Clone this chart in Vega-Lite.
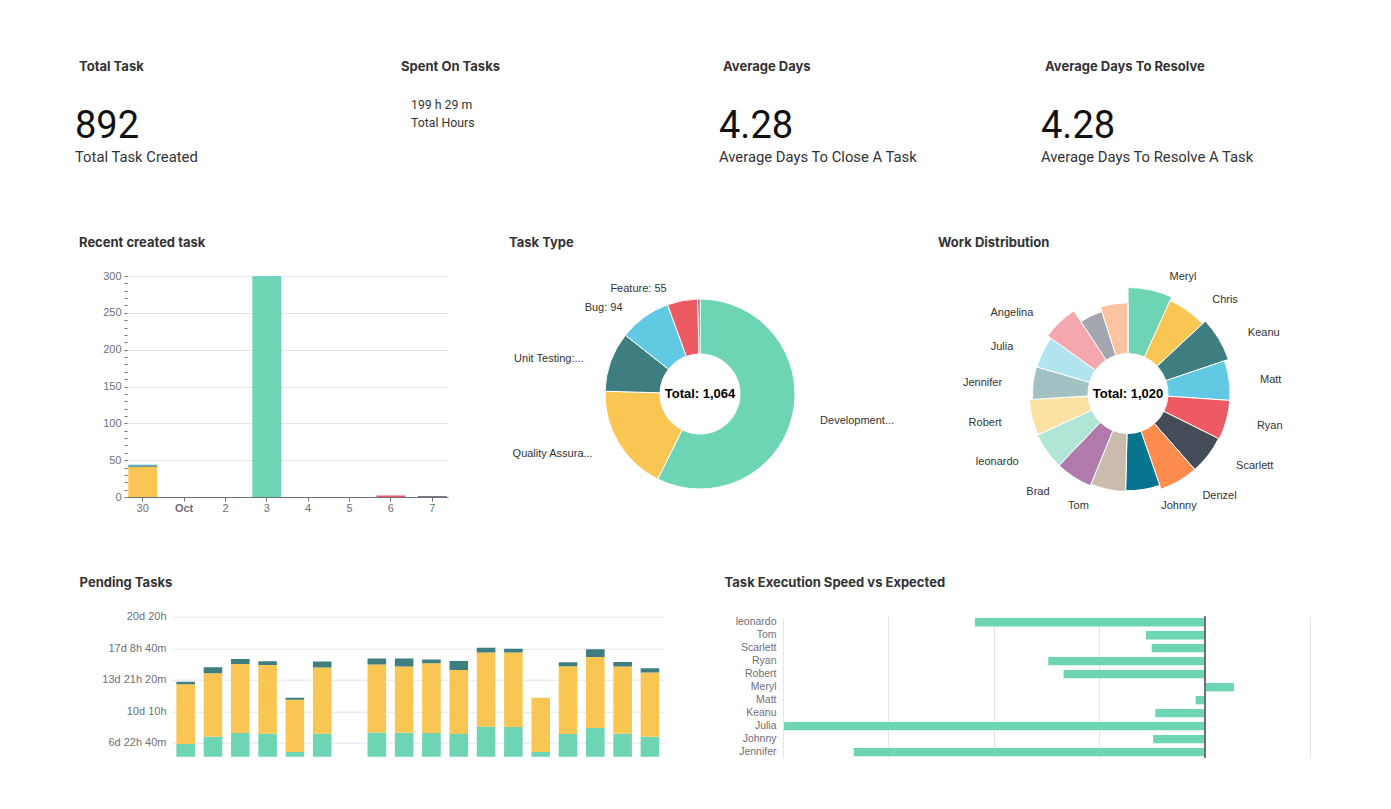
{
  "$schema": "https://vega.github.io/schema/vega-lite/v6.json",
  "background": "white",
  "padding": {"left": 75, "top": 61, "right": 0, "bottom": 0},
  "config": {
    "view": {"stroke": null},
    "title": {"anchor": "start", "frame": "group", "font": "Inter", "fontSize": 13, "fontWeight": "bold", "color": "#333333", "baseline": "alphabetic"},
    "axis": {"labelFont": "Liberation Sans", "labelColor": "#6e7079", "labelFontSize": 11, "gridColor": "#e0e6f1"},
    "text": {"font": "Liberation Sans"}
  },
  "spacing": 21,
  "resolve": {"scale": {"color": "independent", "size": "independent", "theta": "independent", "radius": "independent"}},
  "vconcat": [
    {
      "hconcat": [
        {
          "width": 309, "height": 133,
          "title": {"text": "Total Task", "dx": 4, "offset": 8},
          "data": {"values": [{"role": "value", "text": "892"}, {"role": "label", "text": "Total Task Created"}]},
          "mark": {"type": "text", "align": "left", "baseline": "alphabetic", "font": "Roboto"},
          "encoding": {
            "x": {"datum": 0, "type": "quantitative", "scale": {"domain": [0, 1]}, "axis": null},
            "y": {"field": "role", "type": "nominal", "scale": {"type": "point", "domain": ["d1", "d2", "value", "label", "d3"], "padding": 0.771, "align": 0.216}, "axis": null},
            "text": {"field": "text"},
            "size": {"field": "role", "type": "ordinal", "scale": {"domain": ["value", "label"], "range": [38, 14.8]}, "legend": null},
            "color": {"field": "role", "type": "nominal", "scale": {"domain": ["value", "label"], "range": ["#111111", "#333333"]}, "legend": null}
          }
        },
        {
          "width": 309, "height": 133,
          "title": {"text": "Spent On Tasks", "dx": 4, "offset": 8},
          "data": {"values": [{"role": "value", "text": "199 h 29 m"}, {"role": "label", "text": "Total Hours"}]},
          "mark": {"type": "text", "align": "left", "baseline": "alphabetic", "font": "Roboto", "dx": 14, "fontSize": 12.3, "color": "#333333"},
          "encoding": {
            "x": {"datum": 0, "type": "quantitative", "scale": {"domain": [0, 1]}, "axis": null},
            "y": {"field": "role", "type": "nominal", "scale": {"type": "point", "domain": ["d0", "value", "label", "d3", "d4", "d5", "d6"], "padding": 0.694, "align": 0.36}, "axis": null},
            "text": {"field": "text"}
          }
        },
        {
          "width": 309, "height": 133,
          "title": {"text": "Average Days", "dx": 4, "offset": 8},
          "data": {"values": [{"role": "value", "text": "4.28"}, {"role": "label", "text": "Average Days To Close A Task"}]},
          "mark": {"type": "text", "align": "left", "baseline": "alphabetic", "font": "Roboto"},
          "encoding": {
            "x": {"datum": 0, "type": "quantitative", "scale": {"domain": [0, 1]}, "axis": null},
            "y": {"field": "role", "type": "nominal", "scale": {"type": "point", "domain": ["d1", "d2", "value", "label", "d3"], "padding": 0.771, "align": 0.216}, "axis": null},
            "text": {"field": "text"},
            "size": {"field": "role", "type": "ordinal", "scale": {"domain": ["value", "label"], "range": [38, 14.8]}, "legend": null},
            "color": {"field": "role", "type": "nominal", "scale": {"domain": ["value", "label"], "range": ["#111111", "#333333"]}, "legend": null}
          }
        },
        {
          "width": 276, "height": 133,
          "title": {"text": "Average Days To Resolve", "dx": 4, "offset": 8},
          "data": {"values": [{"role": "value", "text": "4.28"}, {"role": "label", "text": "Average Days To Resolve A Task"}]},
          "mark": {"type": "text", "align": "left", "baseline": "alphabetic", "font": "Roboto"},
          "encoding": {
            "x": {"datum": 0, "type": "quantitative", "scale": {"domain": [0, 1]}, "axis": null},
            "y": {"field": "role", "type": "nominal", "scale": {"type": "point", "domain": ["d1", "d2", "value", "label", "d3"], "padding": 0.771, "align": 0.216}, "axis": null},
            "text": {"field": "text"},
            "size": {"field": "role", "type": "ordinal", "scale": {"domain": ["value", "label"], "range": [38, 14.8]}, "legend": null},
            "color": {"field": "role", "type": "nominal", "scale": {"domain": ["value", "label"], "range": ["#111111", "#333333"]}, "legend": null}
          }
        }
      ],
      "spacing": 13,
      "bounds": "flush",
      "resolve": {"scale": {"color": "independent", "size": "independent"}}
    },
    {
      "spacing": 63.7,
      "resolve": {"scale": {"color": "independent", "size": "independent", "theta": "independent", "radius": "independent"}},
      "vconcat": [
        {
          "hconcat": [
            {
              "width": 22, "height": 10,
              "data": {"values": [{"t": ""}]},
              "mark": "text",
              "encoding": {"text": {"field": "t"}}
            },
            {
              "width": 321, "height": 221,
              "title": {"text": "Recent created task", "dx": -48, "offset": 20.5},
              "data": {"values": [
                {"date": "2023-09-30", "type": "Quality Assurance", "count": 41},
                {"date": "2023-09-30", "type": "Unit Testing", "count": 2},
                {"date": "2023-09-30", "type": "Bug", "count": 1},
                {"date": "2023-10-03", "type": "Development", "count": 299},
                {"date": "2023-10-03", "type": "Bug", "count": 1},
                {"date": "2023-10-06", "type": "Feature", "count": 2},
                {"date": "2023-10-07", "type": "Other", "count": 1}
              ]},
              "transform": [{"calculate": "indexof(['Development','Quality Assurance','Unit Testing','Bug','Feature','Other'], datum.type)", "as": "ord"}],
              "mark": {"type": "bar"},
              "encoding": {
                "x": {"field": "date", "type": "ordinal",
                  "scale": {"type": "band", "domain": ["2023-09-30", "2023-10-01", "2023-10-02", "2023-10-03", "2023-10-04", "2023-10-05", "2023-10-06", "2023-10-07"], "paddingInner": 0.3, "paddingOuter": 0.03},
                  "axis": {"title": null, "labelAngle": 0, "labelExpr": "datum.value == '2023-10-01' ? 'Oct' : '' + toNumber(slice(datum.value, 8))",
                    "labelFontWeight": {"condition": {"test": "datum.value == '2023-10-01'", "value": "bold"}, "value": "normal"},
                    "domainColor": "#6e7079", "tickColor": "#6e7079", "tickSize": 4, "labelPadding": 1}},
                "y": {"field": "count", "type": "quantitative", "stack": "zero", "scale": {"domain": [0, 300], "nice": false},
                  "axis": {"title": null, "values": [0, 10, 20, 30, 40, 50, 60, 70, 80, 90, 100, 110, 120, 130, 140, 150, 160, 170, 180, 190, 200, 210, 220, 230, 240, 250, 260, 270, 280, 290, 300],
                    "labelExpr": "datum.value % 50 == 0 ? datum.label : ''",
                    "gridOpacity": {"condition": {"test": "datum.value % 50 == 0", "value": 1}, "value": 0},
                    "domain": false, "tickSize": 3, "tickColor": "#6e7079", "labelOverlap": false, "labelPadding": 3}},
                "color": {"field": "type", "type": "nominal", "scale": {"domain": ["Development", "Quality Assurance", "Unit Testing", "Bug", "Feature", "Other"], "range": ["#6dd4b4", "#f9c653", "#3e7e80", "#62c9e2", "#ed5a64", "#454c59"]}, "legend": null},
                "order": {"field": "ord", "type": "quantitative"}
              }
            },
            {
              "width": 444, "height": 236,
              "title": {"text": "Task Type", "dx": 31, "offset": 26.5},
              "data": {"values": [
                {"type": "Development", "count": 610, "label": "Development..."},
                {"type": "Quality Assurance", "count": 193, "label": "Quality Assura..."},
                {"type": "Unit Testing", "count": 108, "label": "Unit Testing:..."},
                {"type": "Bug", "count": 94, "label": "Bug: 94"},
                {"type": "Feature", "count": 55, "label": "Feature: 55"},
                {"type": "Other", "count": 4, "label": ""}
              ]},
              "transform": [{"calculate": "indexof(['Development','Quality Assurance','Unit Testing','Bug','Feature','Other'], datum.type)", "as": "ord"}],
              "layer": [
                {
                  "mark": {"type": "arc", "radius": 95, "innerRadius": 40, "stroke": "#ffffff", "strokeWidth": 1},
                  "encoding": {
                    "theta": {"field": "count", "type": "quantitative", "stack": true},
                    "order": {"field": "ord", "type": "quantitative"},
                    "color": {"field": "type", "type": "nominal", "scale": {"domain": ["Development", "Quality Assurance", "Unit Testing", "Bug", "Feature", "Other"], "range": ["#6dd4b4", "#f9c653", "#3e7e80", "#62c9e2", "#ed5a64", "#454c59"]}, "legend": null}
                  }
                },
                {
                  "mark": {"type": "text", "radius": 110, "align": "left", "dx": 13, "dy": 2, "baseline": "middle", "fontSize": 11, "color": "#333333"},
                  "encoding": {
                    "theta": {"field": "count", "type": "quantitative", "stack": true},
                    "order": {"field": "ord", "type": "quantitative"},
                    "text": {"condition": {"test": "datum.type == 'Development'", "field": "label"}, "value": ""}
                  }
                },
                {
                  "mark": {"type": "text", "radius": 110, "align": "right", "dx": -13, "dy": 3, "baseline": "middle", "fontSize": 11, "color": "#333333"},
                  "encoding": {
                    "theta": {"field": "count", "type": "quantitative", "stack": true},
                    "order": {"field": "ord", "type": "quantitative"},
                    "text": {"condition": {"test": "datum.type != 'Development'", "field": "label"}, "value": ""}
                  }
                },
                {
                  "transform": [{"aggregate": [{"op": "sum", "field": "count", "as": "total"}]}, {"calculate": "'Total: ' + format(datum.total, ',')", "as": "t"}],
                  "mark": {"type": "text", "fontSize": 13, "fontWeight": "bold", "color": "#000000", "baseline": "middle"},
                  "encoding": {"text": {"field": "t"}}
                }
              ]
            },
            {
              "width": 352, "height": 235,
              "title": {"text": "Work Distribution", "dx": -14, "offset": 21.5},
              "data": {"values": [
                {"name": "Meryl", "count": 69}, {"name": "Chris", "count": 64}, {"name": "Keanu", "count": 69},
                {"name": "Matt", "count": 64}, {"name": "Ryan", "count": 64}, {"name": "Scarlett", "count": 63},
                {"name": "Denzel", "count": 63}, {"name": "Johnny", "count": 58}, {"name": "Tom", "count": 59},
                {"name": "Brad", "count": 61}, {"name": "leonardo", "count": 61}, {"name": "Robert", "count": 60},
                {"name": "Jennifer", "count": 56}, {"name": "Julia", "count": 55}, {"name": "Angelina", "count": 60},
                {"name": "Natalie", "count": 44}, {"name": "Morgan", "count": 50}
              ]},
              "transform": [{"calculate": "indexof(['Meryl','Chris','Keanu','Matt','Ryan','Scarlett','Denzel','Johnny','Tom','Brad','leonardo','Robert','Jennifer','Julia','Angelina','Natalie','Morgan'], datum.name)", "as": "ord"}],
              "layer": [
                {
                  "mark": {"type": "arc", "innerRadius": 40, "stroke": "#ffffff", "strokeWidth": 1},
                  "encoding": {
                    "theta": {"field": "count", "type": "quantitative", "stack": true},
                    "radius": {"field": "count", "type": "quantitative", "scale": {"type": "linear", "zero": false, "domain": [44, 69], "range": [86, 106]}},
                    "order": {"field": "ord", "type": "quantitative"},
                    "color": {"field": "name", "type": "nominal", "scale": {"domain": ["Meryl", "Chris", "Keanu", "Matt", "Ryan", "Scarlett", "Denzel", "Johnny", "Tom", "Brad", "leonardo", "Robert", "Jennifer", "Julia", "Angelina", "Natalie", "Morgan"], "range": ["#6dd4b4", "#f9c653", "#3e7e80", "#62c9e2", "#ed5a64", "#454c59", "#fd8b4d", "#07748d", "#c9bcad", "#b07aac", "#b1e6d6", "#fbe1a4", "#a1c1c3", "#b2e4f0", "#f4a8ad", "#a3a6ae", "#fcc3a3"]}, "legend": null}
                  }
                },
                {
                  "mark": {"type": "text", "radiusOffset": 15, "align": "left", "dx": 16, "dy": 2, "baseline": "middle", "fontSize": 11, "color": "#333333"},
                  "encoding": {
                    "theta": {"field": "count", "type": "quantitative", "stack": true},
                    "radius": {"field": "count", "type": "quantitative", "scale": {"type": "linear", "zero": false, "domain": [44, 69], "range": [86, 106]}},
                    "order": {"field": "ord", "type": "quantitative"},
                    "text": {"condition": {"test": "indexof(['Meryl','Chris','Keanu','Matt','Ryan','Scarlett','Denzel','Johnny'], datum.name) >= 0", "field": "name"}, "value": ""}
                  }
                },
                {
                  "mark": {"type": "text", "radiusOffset": 15, "align": "right", "dx": -16, "dy": 2, "baseline": "middle", "fontSize": 11, "color": "#333333"},
                  "encoding": {
                    "theta": {"field": "count", "type": "quantitative", "stack": true},
                    "radius": {"field": "count", "type": "quantitative", "scale": {"type": "linear", "zero": false, "domain": [44, 69], "range": [86, 106]}},
                    "order": {"field": "ord", "type": "quantitative"},
                    "text": {"condition": {"test": "indexof(['Tom','Brad','leonardo','Robert','Jennifer','Julia','Angelina'], datum.name) >= 0", "field": "name"}, "value": ""}
                  }
                },
                {
                  "transform": [{"aggregate": [{"op": "sum", "field": "count", "as": "total"}]}, {"calculate": "'Total: ' + format(datum.total, ',')", "as": "t"}],
                  "mark": {"type": "text", "fontSize": 13, "fontWeight": "bold", "color": "#000000", "baseline": "middle"},
                  "encoding": {"text": {"field": "t"}}
                }
              ]
            }
          ],
          "spacing": 30,
          "bounds": "flush",
          "resolve": {"scale": {"color": "independent", "theta": "independent", "radius": "independent"}}
        },
        {
          "hconcat": [
            {
              "width": 86.4, "height": 10,
              "data": {"values": [{"t": ""}]},
              "mark": "text",
              "encoding": {"text": {"field": "t"}}
            },
            {
              "width": 491.6, "height": 140,
              "title": {"text": "Pending Tasks", "dx": -92.4, "offset": 20.9},
              "data": {"values": [
                {"day": "1", "status": "Open", "minutes": 9790}, {"day": "1", "status": "In Progress", "minutes": 9500}, {"day": "1", "status": "Blocked", "minutes": 370},
                {"day": "2", "status": "Open", "minutes": 10950}, {"day": "2", "status": "In Progress", "minutes": 10080}, {"day": "2", "status": "Blocked", "minutes": 950},
                {"day": "3", "status": "Open", "minutes": 11530}, {"day": "3", "status": "In Progress", "minutes": 10980}, {"day": "3", "status": "Blocked", "minutes": 790},
                {"day": "4", "status": "Open", "minutes": 11430}, {"day": "4", "status": "In Progress", "minutes": 10920}, {"day": "4", "status": "Blocked", "minutes": 580},
                {"day": "5", "status": "Open", "minutes": 8520}, {"day": "5", "status": "In Progress", "minutes": 8290}, {"day": "5", "status": "Blocked", "minutes": 320},
                {"day": "6", "status": "Open", "minutes": 11430}, {"day": "6", "status": "In Progress", "minutes": 10500}, {"day": "6", "status": "Blocked", "minutes": 950},
                {"day": "8", "status": "Open", "minutes": 11640}, {"day": "8", "status": "In Progress", "minutes": 10770}, {"day": "8", "status": "Blocked", "minutes": 950},
                {"day": "9", "status": "Open", "minutes": 11580}, {"day": "9", "status": "In Progress", "minutes": 10500}, {"day": "9", "status": "Blocked", "minutes": 1270},
                {"day": "10", "status": "Open", "minutes": 11530}, {"day": "10", "status": "In Progress", "minutes": 11080}, {"day": "10", "status": "Blocked", "minutes": 580},
                {"day": "11", "status": "Open", "minutes": 11370}, {"day": "11", "status": "In Progress", "minutes": 10190}, {"day": "11", "status": "Blocked", "minutes": 1420},
                {"day": "12", "status": "Open", "minutes": 12530}, {"day": "12", "status": "In Progress", "minutes": 11770}, {"day": "12", "status": "Blocked", "minutes": 790},
                {"day": "13", "status": "Open", "minutes": 12480}, {"day": "13", "status": "In Progress", "minutes": 11820}, {"day": "13", "status": "Blocked", "minutes": 630},
                {"day": "14", "status": "Open", "minutes": 8520}, {"day": "14", "status": "In Progress", "minutes": 8600},
                {"day": "15", "status": "Open", "minutes": 11370}, {"day": "15", "status": "In Progress", "minutes": 10770}, {"day": "15", "status": "Blocked", "minutes": 630},
                {"day": "16", "status": "Open", "minutes": 12320}, {"day": "16", "status": "In Progress", "minutes": 11290}, {"day": "16", "status": "Blocked", "minutes": 1210},
                {"day": "17", "status": "Open", "minutes": 11430}, {"day": "17", "status": "In Progress", "minutes": 10650}, {"day": "17", "status": "Blocked", "minutes": 740},
                {"day": "18", "status": "Open", "minutes": 10950}, {"day": "18", "status": "In Progress", "minutes": 10180}, {"day": "18", "status": "Blocked", "minutes": 690}
              ]},
              "transform": [{"calculate": "indexof(['Open','In Progress','Blocked'], datum.status)", "as": "ord"}],
              "mark": {"type": "bar", "clip": true},
              "encoding": {
                "x": {"field": "day", "type": "ordinal", "scale": {"type": "band", "domain": ["1", "2", "3", "4", "5", "6", "7", "8", "9", "10", "11", "12", "13", "14", "15", "16", "17", "18"], "paddingInner": 0.32, "paddingOuter": 0.16}, "axis": null},
                "y": {"field": "minutes", "type": "quantitative", "stack": "zero", "scale": {"domain": [7785, 30000], "nice": false, "zero": false},
                  "axis": {"title": null, "values": [10000, 15000, 20000, 25000, 30000], "domain": false, "ticks": false, "labelPadding": 6,
                    "labelExpr": "floor(datum.value / 1440) + 'd ' + floor((datum.value % 1440) / 60) + 'h' + ((datum.value % 60) > 0 ? ' ' + (datum.value % 60) + 'm' : '')"}},
                "color": {"field": "status", "type": "nominal", "scale": {"domain": ["Open", "In Progress", "Blocked"], "range": ["#6dd4b4", "#f9c653", "#3e7e80"]}, "legend": null},
                "order": {"field": "ord", "type": "quantitative"}
              }
            },
            {
              "width": 98.4, "height": 10,
              "data": {"values": [{"t": ""}]},
              "mark": "text",
              "encoding": {"text": {"field": "t"}}
            },
            {
              "width": 527.4, "height": 141,
              "title": {"text": "Task Execution Speed vs Expected", "dx": -58.4, "offset": 25.9},
              "data": {"values": [
                {"name": "leonardo", "value": -2.18}, {"name": "Tom", "value": -0.56}, {"name": "Scarlett", "value": -0.505},
                {"name": "Ryan", "value": -1.485}, {"name": "Robert", "value": -1.34}, {"name": "Meryl", "value": 0.275},
                {"name": "Matt", "value": -0.087}, {"name": "Keanu", "value": -0.47}, {"name": "Julia", "value": -3.99},
                {"name": "Johnny", "value": -0.49}, {"name": "Jennifer", "value": -3.33}
              ]},
              "layer": [
                {
                  "mark": {"type": "bar", "color": "#6dd4b4"},
                  "encoding": {
                    "y": {"field": "name", "type": "nominal", "scale": {"domain": ["leonardo", "Tom", "Scarlett", "Ryan", "Robert", "Meryl", "Matt", "Keanu", "Julia", "Johnny", "Jennifer"], "paddingInner": 0.36, "paddingOuter": 0.105},
                      "axis": {"title": null, "domain": false, "ticks": false, "labelPadding": 7, "labelFontSize": 10.5}},
                    "x": {"field": "value", "type": "quantitative", "scale": {"domain": [-4, 1], "nice": false},
                      "axis": {"title": null, "values": [-4, -3, -2, -1, 0, 1], "labels": false, "ticks": false, "domain": false}}
                  }
                },
                {
                  "mark": {"type": "rule", "color": "#6e7079"},
                  "encoding": {"x": {"datum": 0, "type": "quantitative"}}
                }
              ]
            }
          ],
          "spacing": 10,
          "bounds": "flush"
        }
      ]
    }
  ]
}
